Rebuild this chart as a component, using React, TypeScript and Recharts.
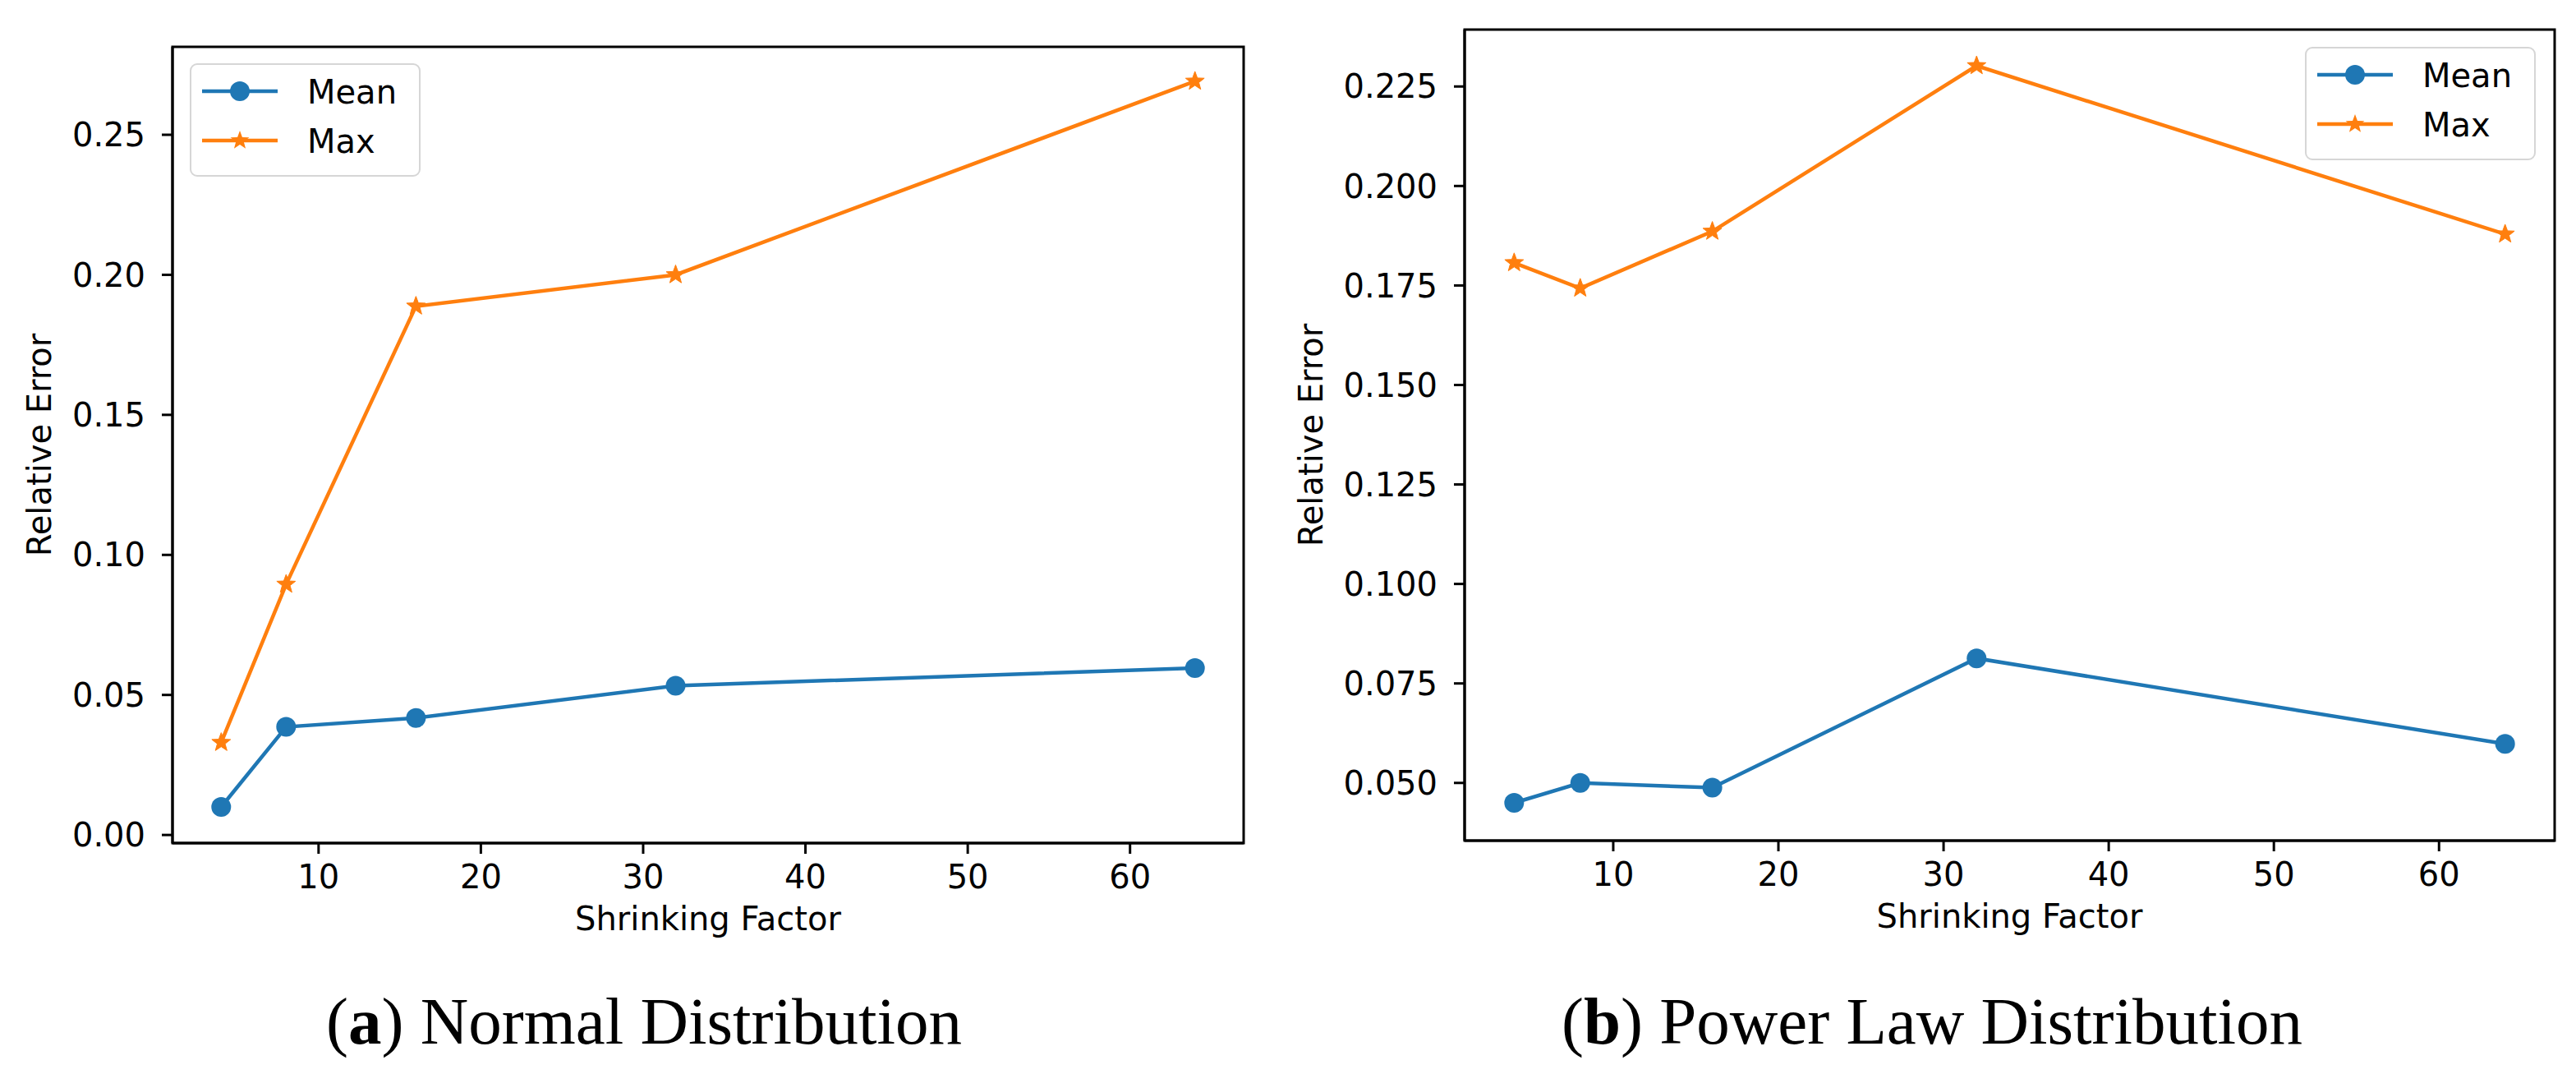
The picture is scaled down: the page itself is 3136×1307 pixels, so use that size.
import React from 'react';
import { LineChart, Line, XAxis, YAxis, ReferenceArea } from 'recharts';

// ---------- data ----------
const shrinkFactors = [4, 8, 16, 32, 64];
const normalMean = [0.01, 0.0386, 0.0418, 0.0533, 0.0596];
const normalMax = [0.033, 0.0895, 0.1888, 0.2, 0.2691];
const powerMean = [0.045, 0.05, 0.0488, 0.0813, 0.0598];
const powerMax = [0.1807, 0.1743, 0.1886, 0.2302, 0.1879];

const xTicks = [10, 20, 30, 40, 50, 60];
const normalYTicks = [0, 0.05, 0.1, 0.15, 0.2, 0.25];
const powerYTicks = [0.05, 0.075, 0.1, 0.125, 0.15, 0.175, 0.2, 0.225];

const seriesNames = ['Mean', 'Max'];
const captions = ['a', 'b'];
const captionTexts = ['Normal Distribution', 'Power Law Distribution'];

const BLUE = '#1f77b4';
const ORANGE = '#ff7f0e';
const FONT = 'DejaVu Sans';

const normalData = shrinkFactors.map((x, i) => ({ x, mean: normalMean[i], max: normalMax[i] }));
const powerData = shrinkFactors.map((x, i) => ({ x, mean: powerMean[i], max: powerMax[i] }));

function starPath(cx: number, cy: number, R: number, r: number) {
  let d = '';
  for (let k = 0; k < 10; k++) {
    const rad = k % 2 === 0 ? R : r;
    const a = -Math.PI / 2 + (k * Math.PI) / 5;
    const px = cx + rad * Math.cos(a);
    const py = cy + rad * Math.sin(a);
    d += (k === 0 ? 'M' : 'L') + px.toFixed(2) + ' ' + py.toFixed(2);
  }
  return d + 'Z';
}

const StarDot = (props: any) => {
  const { cx, cy } = props;
  if (cx == null || cy == null) return null;
  return <path d={starPath(cx, cy, 12, 5)} fill={ORANGE} stroke={ORANGE} strokeWidth={1} />;
};

const LegendSvg = () => (
  <svg width={282} height={139} style={{ display: 'block' }}>
    <rect x={1} y={1} width={279} height={136} rx={8} ry={8} fill="#ffffff" fillOpacity={0.8} stroke="#d6d6d6" strokeWidth={2} />
    <line x1={15} x2={107} y1={34} y2={34} stroke={BLUE} strokeWidth={4.5} />
    <circle cx={61} cy={34} r={12} fill={BLUE} />
    <text x={143} y={49} fontFamily={FONT} fontSize={40} fill="#000">{seriesNames[0]}</text>
    <line x1={15} x2={107} y1={94} y2={94} stroke={ORANGE} strokeWidth={4.5} />
    <path d={starPath(61, 94, 12, 5)} fill={ORANGE} />
    <text x={143} y={109} fontFamily={FONT} fontSize={40} fill="#000">{seriesNames[1]}</text>
  </svg>
);

const tickStyle = { fontFamily: FONT, fontSize: 40, fill: '#000' };

function Panel(props: {
  data: any[];
  yDomain: [number, number];
  yTicks: number[];
  digits: number;
  margin: any;
  yAxisWidth: number;
  yLabelFromPlot: number;
  legendPos: { left: number; top: number };
}) {
  const { data, yDomain, yTicks, digits, margin, yAxisWidth, yLabelFromPlot, legendPos } = props;
  const renderYLabel = (p: any) => {
    const vb = p.viewBox || {};
    const cx = vb.x + vb.width - yLabelFromPlot;
    const cy = vb.y + vb.height / 2;
    return (
      <text x={cx} y={cy} transform={`rotate(-90 ${cx} ${cy})`} textAnchor="middle" fontFamily={FONT} fontSize={40} fill="#000">
        Relative Error
      </text>
    );
  };
  const renderXLabel = (p: any) => {
    const vb = p.viewBox || {};
    const cx = vb.x + vb.width / 2;
    const cy = vb.y + 106;
    return (
      <text x={cx} y={cy} textAnchor="middle" fontFamily={FONT} fontSize={40} fill="#000">
        Shrinking Factor
      </text>
    );
  };
  return (
    <div style={{ position: 'relative', width: 1568, height: 1307 }}>
      <LineChart width={1568} height={1307} data={data} margin={margin}>
        <XAxis
          type="number"
          dataKey="x"
          domain={[1, 67]}
          ticks={xTicks}
          allowDataOverflow
          height={130}
          tickSize={13}
          tickMargin={14}
          tick={tickStyle}
          axisLine={{ stroke: '#000', strokeWidth: 3 }}
          tickLine={{ stroke: '#000', strokeWidth: 3 }}
          label={{ content: renderXLabel }}
        />
        <YAxis
          type="number"
          domain={yDomain}
          ticks={yTicks}
          allowDataOverflow
          width={yAxisWidth}
          tickSize={13}
          tickMargin={20}
          tick={tickStyle}
          tickFormatter={(v: number) => v.toFixed(digits)}
          axisLine={{ stroke: '#000', strokeWidth: 3 }}
          tickLine={{ stroke: '#000', strokeWidth: 3 }}
          label={{ content: renderYLabel }}
        />
        <ReferenceArea x1={1} x2={67} y1={yDomain[0]} y2={yDomain[1]} fill="none" stroke="#000" strokeWidth={3} ifOverflow="visible" />
        <Line
          type="linear"
          dataKey="mean"
          stroke={BLUE}
          strokeWidth={4.5}
          dot={{ r: 12, fill: BLUE, stroke: BLUE, strokeWidth: 0 }}
          activeDot={false}
          isAnimationActive={false}
        />
        <Line
          type="linear"
          dataKey="max"
          stroke={ORANGE}
          strokeWidth={4.5}
          dot={(p: any) => <StarDot key={`s${p.index}`} {...p} />}
          activeDot={false}
          isAnimationActive={false}
        />
      </LineChart>
      <div style={{ position: 'absolute', left: legendPos.left, top: legendPos.top }}>
        <LegendSvg />
      </div>
    </div>
  );
}

export default function App() {
  return (
    <div style={{ position: 'absolute', left: 0, top: 0, width: 3136, height: 1307, background: '#fff', overflow: 'hidden' }}>
      <div style={{ position: 'absolute', left: 0, top: 0 }}>
        <Panel
          data={normalData}
          yDomain={[-0.0029, 0.2814]}
          yTicks={normalYTicks}
          digits={2}
          margin={{ top: 57, right: 54, bottom: 151, left: 80 }}
          yAxisWidth={130}
          yLabelFromPlot={148}
          legendPos={{ left: 231, top: 77 }}
        />
      </div>
      <div style={{ position: 'absolute', left: 1568, top: 0 }}>
        <Panel
          data={powerData}
          yDomain={[0.0355, 0.2393]}
          yTicks={powerYTicks}
          digits={3}
          margin={{ top: 36, right: 26, bottom: 154, left: 75 }}
          yAxisWidth={140}
          yLabelFromPlot={173}
          legendPos={{ left: 1238, top: 57 }}
        />
      </div>
      <svg width={3136} height={1307} style={{ position: 'absolute', left: 0, top: 0, pointerEvents: 'none' }}>
        {captions.map((c, i) => (
          <text key={c} x={784 + i * 1568} y={1270} textAnchor="middle" fontFamily="Liberation Serif" fontSize={81} fill="#000">
            (<tspan fontWeight="bold">{c}</tspan>) {captionTexts[i]}
          </text>
        ))}
      </svg>
    </div>
  );
}
